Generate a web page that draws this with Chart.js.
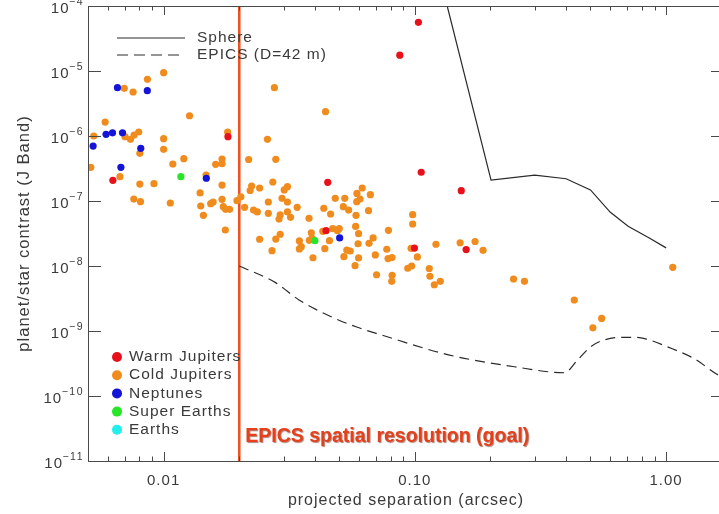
<!DOCTYPE html>
<html><head><meta charset="utf-8">
<script src="https://cdn.jsdelivr.net/npm/chart.js@4.4.1/dist/chart.umd.min.js"></script>
<style>
html,body{margin:0;padding:0;overflow:hidden;background:#fff;width:719px;height:514px}
canvas{display:block}
</style></head>
<body><canvas id="c" width="728" height="514"></canvas>
<script>
// ---- data ----
const warmX = [0.00628, 0.01803, 0.0450, 0.0443, 0.0871, 0.1033, 0.106, 0.0996, 0.153, 0.160];
const warmY = [2.08e-7, 9.75e-7, 1.94e-7, 3.49e-8, 1.75e-5, 5.6e-5, 2.77e-7, 1.89e-8, 1.44e-7, 1.79e-8];

const coldX = [
0.00697, 0.00756, 0.00862, 0.0100, 0.01268, 0.00585, 0.00527, 0.00702, 0.00738, 0.00763,
0.00796, 0.00804, 0.0100, 0.0100, 0.00513, 0.00670, 0.00804, 0.00915, 0.00761, 0.00809,
0.01088, 0.01203, 0.01063, 0.01397, 0.01405, 0.0144, 0.01539, 0.01574, 0.01476, 0.01611,
0.01708, 0.01708, 0.01708, 0.01708, 0.01728, 0.01765, 0.0183, 0.0176, 0.01798, 0.01958,
0.0203, 0.0210, 0.0218, 0.02795, 0.0259, 0.0276, 0.0441, 0.0272, 0.0224, 0.0221,
0.0241, 0.0311, 0.0302, 0.0228, 0.0236, 0.0261, 0.0261, 0.0296, 0.0311, 0.0291,
0.0288, 0.0311, 0.0320, 0.0340, 0.0379, 0.0434, 0.0462, 0.0482, 0.0526, 0.0519,
0.0545, 0.0241, 0.02795, 0.0291, 0.0270, 0.0347, 0.0353, 0.0347, 0.0387, 0.0380,
0.0390, 0.0393, 0.0430, 0.0457, 0.0438, 0.0471, 0.0492, 0.0500, 0.0536, 0.0522,
0.0553, 0.0594, 0.0657, 0.0682, 0.0581, 0.0597, 0.0587, 0.0605, 0.0617, 0.0588,
0.0665, 0.0654, 0.0583, 0.0980, 0.0980, 0.0785, 0.0966, 0.1023, 0.0773, 0.0811,
0.0696, 0.1213, 0.1514, 0.1736, 0.1868, 0.0597, 0.0578, 0.0782, 0.0704, 0.0812,
0.0809, 0.0937, 0.0971, 0.1141, 0.1148, 0.1195, 0.1262, 0.247, 0.273, 0.431,
0.511, 0.554, 1.063];
const coldY = [
5.42e-6, 4.75e-6, 7.45e-6, 9.42e-6, 2.05e-6, 1.64e-6, 1.0e-6, 9.75e-7, 8.89e-7, 1.035e-6,
1.153e-6, 5.42e-7, 9.08e-7, 6.24e-7, 3.30e-7, 2.37e-7, 1.82e-7, 1.85e-7, 1.07e-7, 9.75e-8,
3.71e-7, 4.48e-7, 9.31e-8, 1.33e-7, 8.38e-8, 6.03e-8, 9.08e-8, 9.66e-8, 2.51e-7, 3.67e-7,
3.75e-7, 4.43e-7, 1.76e-7, 1.06e-7, 8.17e-8, 7.45e-8, 7.45e-8, 3.58e-8, 1.15e-6, 1.01e-7,
1.16e-7, 8.0e-8, 4.35e-7, 4.38e-7, 8.89e-7, 5.53e-6, 2.37e-6, 1.96e-7, 1.70e-7, 1.45e-7,
1.585e-7, 1.66e-7, 1.48e-7, 7.26e-8, 6.78e-8, 9.66e-8, 6.47e-8, 1.10e-7, 9.66e-8, 6.10e-8,
5.28e-8, 6.78e-8, 5.61e-8, 8.0e-8, 5.42e-8, 7.73e-8, 6.31e-8, 1.10e-7, 1.10e-7, 8.17e-8,
7.26e-8, 2.58e-8, 2.60e-8, 3.08e-8, 1.72e-8, 2.43e-8, 1.98e-8, 1.83e-8, 3.25e-8, 2.48e-8,
2.67e-8, 1.34e-8, 3.42e-8, 2.45e-8, 1.85e-8, 3.75e-8, 3.49e-8, 3.75e-8, 1.76e-8, 1.39e-8,
1.70e-8, 2.20e-8, 2.23e-8, 2.70e-8, 4.06e-8, 3.14e-8, 9.75e-8, 1.07e-7, 1.585e-7, 1.31e-7,
1.25e-7, 7.10e-8, 6.03e-8, 6.15e-8, 4.43e-8, 3.54e-8, 1.87e-8, 1.38e-8, 1.81e-8, 1.35e-8,
1.48e-8, 2.16e-8, 2.28e-8, 2.38e-8, 1.74e-8, 1.33e-8, 1.01e-8, 1.30e-8, 7.34e-9, 7.19e-9,
5.81e-9, 9.23e-9, 1.0e-8, 9.15e-9, 6.95e-9, 5.15e-9, 5.81e-9, 6.31e-9, 5.81e-9, 3.0e-9,
1.12e-9, 1.56e-9, 9.55e-9];

const neptX = [0.00655, 0.00861, 0.00524, 0.0059, 0.00626, 0.00686, 0.00811, 0.00676, 0.01479, 0.0502];
const neptY = [5.53e-6, 4.98e-6, 7.0e-7, 1.06e-6, 1.12e-6, 1.12e-6, 6.47e-7, 3.30e-7, 2.24e-7, 2.70e-8];

const superX = [0.01171, 0.0400];
const superY = [2.37e-7, 2.45e-8];

const earthX = [];
const earthY = [];

const sphereX = [0.1345, 0.201, 0.30, 0.40, 0.50, 0.60, 0.706, 0.857, 1.0];
const sphereY = [1e-4, 2.1e-7, 2.5e-7, 2.2e-7, 1.48e-7, 6.7e-8, 4.1e-8, 2.7e-8, 1.9e-8];

const epicsX = [0.02, 0.028, 0.0346, 0.0467, 0.0587, 0.0736, 0.136, 0.249, 0.394, 0.444, 0.501, 0.566, 0.659, 0.767, 0.841, 1.009, 1.287, 1.58, 1.75];
const epicsY = [1.0e-8, 5.5e-9, 3.0e-9, 1.64e-9, 1.15e-9, 8.7e-10, 4.3e-10, 2.82e-10, 2.28e-10, 3.58e-10, 5.73e-10, 7.27e-10, 8.0e-10, 8.0e-10, 7.45e-10, 5.73e-10, 3.8e-10, 2.2e-10, 1.75e-10];

const resolutionX = 0.02;
const resolutionLabel = 'EPICS spatial resolution (goal)';

const xTickValues = [0.01, 0.1, 1];
const xTickLabels = ['0.01', '0.10', '1.00'];
const yTickValues = [1e-4, 1e-5, 1e-6, 1e-7, 1e-8, 1e-9, 1e-10, 1e-11];
const yTickBase = '10';
const yTickExponents = ['−4', '−5', '−6', '−7', '−8', '−9', '−10', '−11'];

const xRange = [0.005, 1.7];
const yRange = [1e-11, 1e-4];

// ---- helpers ----
const pts = (xs, ys) => xs.map((v, i) => ({x: v, y: ys[i]}));
const FONT = '"Liberation Sans", Arial, Helvetica, sans-serif';
const TXT = '#3a3a3a';

const pointSets = [
  {label: 'Warm Jupiters', color: '#e8101a', xs: warmX, ys: warmY},
  {label: 'Cold Jupiters', color: '#f08c1e', xs: coldX, ys: coldY},
  {label: 'Neptunes', color: '#1414d8', xs: neptX, ys: neptY},
  {label: 'Super Earths', color: '#26e626', xs: superX, ys: superY},
  {label: 'Earths', color: '#22eeee', xs: earthX, ys: earthY}
];
const scatterOrder = {'Warm Jupiters': 1, 'Cold Jupiters': 5, 'Neptunes': 2, 'Super Earths': 0, 'Earths': 0};

const datasets = [];
pointSets.forEach(s => datasets.push({
  type: 'scatter', label: s.label, data: pts(s.xs, s.ys),
  backgroundColor: s.color, borderWidth: 0, pointRadius: 3.6, order: scatterOrder[s.label]
}));
datasets.push({
  type: 'line', label: 'Sphere', data: pts(sphereX, sphereY),
  borderColor: '#2a2a2a', borderWidth: 1.2, pointRadius: 0, tension: 0, order: 8
});
datasets.push({
  type: 'line', label: 'EPICS (D=42 m)', data: pts(epicsX, epicsY),
  borderColor: '#2a2a2a', borderWidth: 1.2, borderDash: [10, 6], pointRadius: 0,
  cubicInterpolationMode: 'monotone', order: 8
});
datasets.push({
  type: 'line', label: 'resolution', data: [{x: resolutionX, y: yRange[0]}, {x: resolutionX, y: yRange[1]}],
  borderColor: '#f0521f', borderWidth: 2.6, pointRadius: 0, order: 9
});

const lineLegend = [
  {label: 'Sphere', dash: []},
  {label: 'EPICS (D=42 m)', dash: [11, 6]}
];

const spacingPlugin = {
  id: 'spacing',
  beforeDraw(chart) { chart.ctx.letterSpacing = '1px'; },
  afterDraw(chart) { chart.ctx.letterSpacing = '0px'; }
};

const framePlugin = {
  id: 'frame',
  afterDatasetsDraw(chart) {
    const {ctx, chartArea: a, scales: {x, y}} = chart;
    ctx.save();
    // resolution label
    ctx.letterSpacing = '0px';
    ctx.font = 'bold 19.5px ' + FONT;
    ctx.fillStyle = '#e4401c';
    ctx.textBaseline = 'middle';
    ctx.textAlign = 'left';
    ctx.shadowColor = 'rgba(110,30,10,0.55)';
    ctx.shadowOffsetX = 1; ctx.shadowOffsetY = 1; ctx.shadowBlur = 1;
    ctx.fillText(resolutionLabel, x.getPixelForValue(resolutionX) + 6, a.bottom - 24);
    ctx.restore();

    ctx.save();
    ctx.strokeStyle = '#4a4a4a';
    ctx.lineWidth = 1;
    ctx.beginPath();
    ctx.moveTo(a.left + 0.5, a.top + 0.5); ctx.lineTo(a.right, a.top + 0.5);
    ctx.moveTo(a.left + 0.5, a.top); ctx.lineTo(a.left + 0.5, a.bottom + 0.5);
    ctx.moveTo(a.left, a.bottom + 0.5); ctx.lineTo(a.right, a.bottom + 0.5);
    ctx.moveTo(a.right - 0.5, a.top); ctx.lineTo(a.right - 0.5, a.bottom);
    // x ticks (major + minor)
    const lo = Math.floor(Math.log10(x.min)), hi = Math.ceil(Math.log10(x.max));
    for (let e = lo; e <= hi; e++) {
      for (let k = 1; k <= 9; k++) {
        const v = k * Math.pow(10, e);
        if (v <= x.min * 1.0001 || v > x.max) continue;
        const px = Math.round(x.getPixelForValue(v)) + 0.5;
        const len = k === 1 ? 9 : 4.5;
        ctx.moveTo(px, a.bottom); ctx.lineTo(px, a.bottom - len);
        ctx.moveTo(px, a.top); ctx.lineTo(px, a.top + len);
      }
    }
    // y ticks
    yTickValues.forEach(v => {
      const py = Math.round(y.getPixelForValue(v)) + 0.5;
      ctx.moveTo(a.left, py); ctx.lineTo(a.left + 13, py);
      ctx.moveTo(a.right, py); ctx.lineTo(a.right - 13, py);
    });
    ctx.stroke();

    // y tick labels: 10 with superscript exponent
    ctx.fillStyle = TXT;
    ctx.textAlign = 'left';
    ctx.textBaseline = 'alphabetic';
    yTickValues.forEach((v, i) => {
      const py = y.getPixelForValue(v);
      ctx.font = '10.5px ' + FONT;
      ctx.letterSpacing = '1.5px';
      const ew = ctx.measureText(yTickExponents[i]).width;
      const ex = a.left - 4 - ew;
      ctx.fillText(yTickExponents[i], ex, py - 1);
      ctx.font = '15px ' + FONT;
      ctx.letterSpacing = '1px';
      const bw = ctx.measureText(yTickBase).width;
      ctx.fillText(yTickBase, ex - bw + 0.5, py + 7);
    });
    ctx.restore();

    // legends
    ctx.save();
    ctx.letterSpacing = '1px';
    ctx.font = '15.5px ' + FONT;
    ctx.fillStyle = TXT;
    ctx.textBaseline = 'middle';
    ctx.textAlign = 'left';
    ctx.strokeStyle = '#2a2a2a';
    ctx.lineWidth = 1.2;
    lineLegend.forEach((l, i) => {
      const ly = a.top + 32 + i * 17;
      ctx.setLineDash(l.dash);
      ctx.beginPath(); ctx.moveTo(a.left + 29, ly); ctx.lineTo(a.left + 97, ly); ctx.stroke();
      ctx.fillText(l.label, a.left + 109, ly);
    });
    ctx.setLineDash([]);
    pointSets.forEach((s, i) => {
      const ly = a.top + 351 + i * 18.2;
      ctx.fillStyle = s.color;
      ctx.beginPath(); ctx.arc(a.left + 29, ly, 5, 0, Math.PI * 2); ctx.fill();
      ctx.fillStyle = TXT;
      ctx.fillText(s.label, a.left + 41, ly);
    });
    ctx.restore();
  }
};

new Chart(document.getElementById('c'), {
  data: {datasets},
  options: {
    responsive: false,
    animation: false,
    devicePixelRatio: 1,
    layout: {padding: {left: 0, right: 1, top: 6, bottom: 0}},
    plugins: {legend: {display: false}, tooltip: {enabled: false}},
    scales: {
      x: {
        type: 'logarithmic', position: 'bottom', min: xRange[0], max: xRange[1],
        grid: {display: false, drawTicks: false}, border: {display: false},
        afterBuildTicks: s => { s.ticks = xTickValues.map(v => ({value: v})); },
        afterFit: s => { s.height = 53; s.paddingLeft = 0; s.paddingRight = 0; },
        ticks: {
          callback: (v, i) => xTickLabels[i], color: TXT, padding: 11,
          font: {family: FONT, size: 15}, maxRotation: 0, autoSkip: false
        },
        title: {display: true, text: 'projected separation (arcsec)', color: TXT,
          font: {family: FONT, size: 16}, padding: {top: 0, bottom: 4}}
      },
      y: {
        type: 'logarithmic', position: 'left', min: yRange[0], max: yRange[1],
        grid: {display: false, drawTicks: false}, border: {display: false},
        afterBuildTicks: s => { s.ticks = yTickValues.map(v => ({value: v})); },
        afterFit: s => { s.width = 88; s.paddingTop = 0; s.paddingBottom = 0; },
        ticks: {display: false},
        title: {display: true, text: 'planet/star contrast (J Band)', color: TXT,
          font: {family: FONT, size: 16.5}, padding: {top: 15, bottom: 0}}
      }
    }
  },
  plugins: [spacingPlugin, framePlugin]
});
</script>
</body></html>
